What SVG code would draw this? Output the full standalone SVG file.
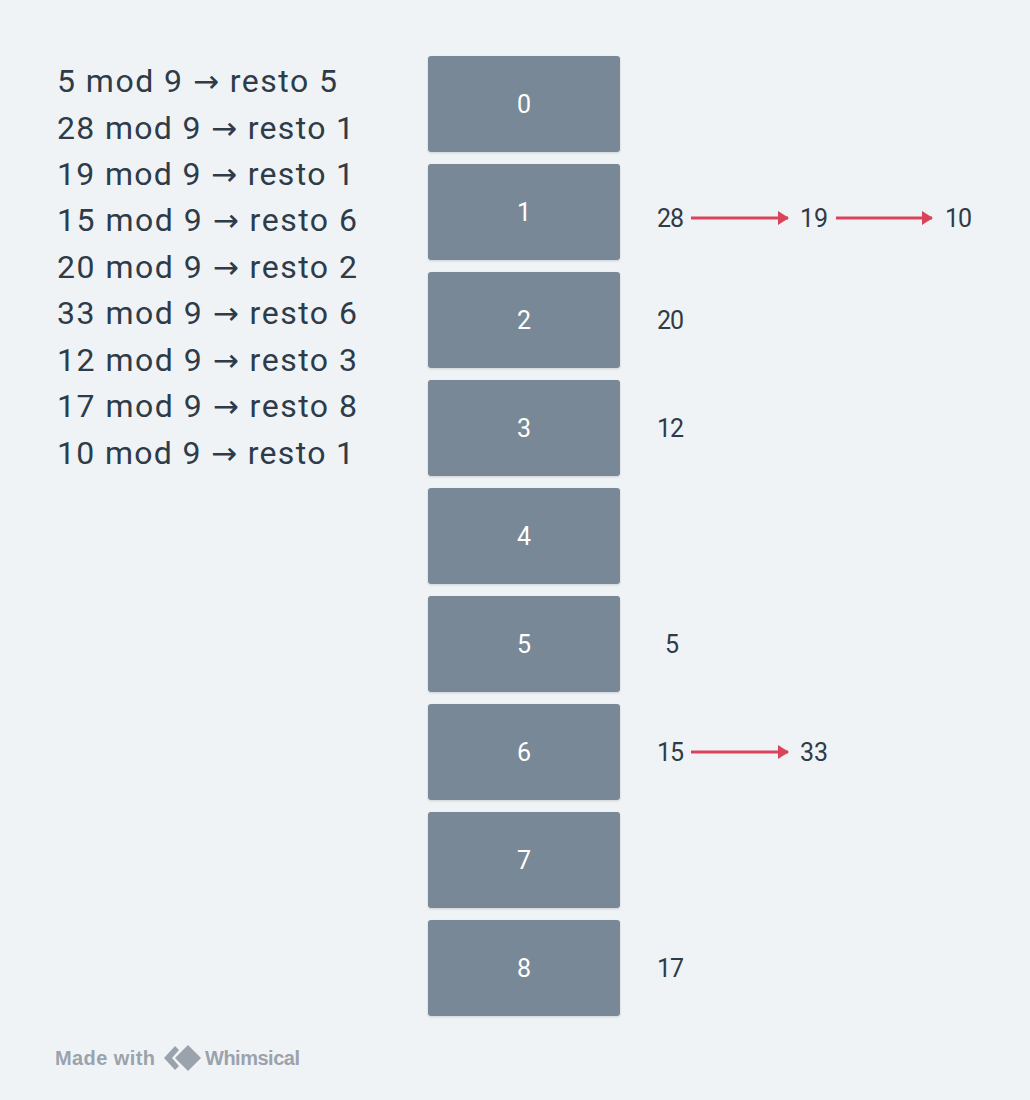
<svg xmlns="http://www.w3.org/2000/svg" width="1030" height="1100" viewBox="0 0 1030 1100">
<defs>
<style>
.bg{fill:#f0f3f6}
.box{fill:#788896}
.lbl{font-family:Roboto,"Liberation Sans",sans-serif;font-size:25px;fill:#ffffff;text-anchor:middle;dominant-baseline:central}
.eq{font-family:Roboto,"Liberation Sans",sans-serif;font-size:32px;fill:#2e3b48}
.ar{font-family:"DejaVu Sans",sans-serif;font-size:31px}
.val{font-family:Roboto,"Liberation Sans",sans-serif;font-size:25px;fill:#2e3b48;dominant-baseline:central}
.arr{stroke:#d9445a;stroke-width:3;fill:none}
.wm{font-family:"Liberation Sans",Arial,sans-serif;font-size:20px;font-weight:bold;fill:#9aa3ac}
</style>
<filter id="sh" x="-10%" y="-10%" width="120%" height="130%">
<feDropShadow dx="0" dy="1" stdDeviation="1" flood-color="#000" flood-opacity="0.15"/>
</filter>
<marker id="ah" markerWidth="12" markerHeight="14" refX="10" refY="7" orient="auto" markerUnits="userSpaceOnUse">
<path d="M0,0 L11,7 L0,14 Z" fill="#d9445a"/>
</marker>
</defs>
<rect class="bg" x="0" y="0" width="1030" height="1100"/>
<g id="equations">
<text class="eq" x="57" y="92" textLength="280" lengthAdjust="spacing">5 mod 9 <tspan class="ar">→</tspan> resto 5</text>
<text class="eq" x="57" y="139" textLength="297" lengthAdjust="spacing">28 mod 9 <tspan class="ar">→</tspan> resto 1</text>
<text class="eq" x="57" y="185" textLength="297" lengthAdjust="spacing">19 mod 9 <tspan class="ar">→</tspan> resto 1</text>
<text class="eq" x="57" y="231" textLength="300" lengthAdjust="spacing">15 mod 9 <tspan class="ar">→</tspan> resto 6</text>
<text class="eq" x="57" y="278" textLength="300" lengthAdjust="spacing">20 mod 9 <tspan class="ar">→</tspan> resto 2</text>
<text class="eq" x="57" y="324" textLength="300" lengthAdjust="spacing">33 mod 9 <tspan class="ar">→</tspan> resto 6</text>
<text class="eq" x="57" y="371" textLength="300" lengthAdjust="spacing">12 mod 9 <tspan class="ar">→</tspan> resto 3</text>
<text class="eq" x="57" y="417" textLength="300" lengthAdjust="spacing">17 mod 9 <tspan class="ar">→</tspan> resto 8</text>
<text class="eq" x="57" y="464" textLength="297" lengthAdjust="spacing">10 mod 9 <tspan class="ar">→</tspan> resto 1</text>
</g>
<g id="bucket0"><rect class="box" filter="url(#sh)" x="428" y="56" width="192" height="96" rx="3"/><text class="lbl" x="524" y="104">0</text></g>
<g id="bucket1"><rect class="box" filter="url(#sh)" x="428" y="164" width="192" height="96" rx="3"/><text class="lbl" x="524" y="212">1</text></g>
<g id="bucket2"><rect class="box" filter="url(#sh)" x="428" y="272" width="192" height="96" rx="3"/><text class="lbl" x="524" y="320">2</text></g>
<g id="bucket3"><rect class="box" filter="url(#sh)" x="428" y="380" width="192" height="96" rx="3"/><text class="lbl" x="524" y="428">3</text></g>
<g id="bucket4"><rect class="box" filter="url(#sh)" x="428" y="488" width="192" height="96" rx="3"/><text class="lbl" x="524" y="536">4</text></g>
<g id="bucket5"><rect class="box" filter="url(#sh)" x="428" y="596" width="192" height="96" rx="3"/><text class="lbl" x="524" y="644">5</text></g>
<g id="bucket6"><rect class="box" filter="url(#sh)" x="428" y="704" width="192" height="96" rx="3"/><text class="lbl" x="524" y="752">6</text></g>
<g id="bucket7"><rect class="box" filter="url(#sh)" x="428" y="812" width="192" height="96" rx="3"/><text class="lbl" x="524" y="860">7</text></g>
<g id="bucket8"><rect class="box" filter="url(#sh)" x="428" y="920" width="192" height="96" rx="3"/><text class="lbl" x="524" y="968">8</text></g>
<g id="v28"><text class="val" x="657" y="218" textLength="27">28</text></g>
<g id="v19"><text class="val" x="800" y="218" textLength="28">19</text></g>
<g id="v10"><text class="val" x="945" y="218" textLength="27">10</text></g>
<g id="v20"><text class="val" x="657" y="320" textLength="27">20</text></g>
<g id="v12"><text class="val" x="657" y="428" textLength="27">12</text></g>
<g id="v5"><text class="val" x="665" y="644">5</text></g>
<g id="v15"><text class="val" x="657" y="752" textLength="27">15</text></g>
<g id="v33"><text class="val" x="800" y="752" textLength="28">33</text></g>
<g id="v17"><text class="val" x="657" y="968" textLength="27">17</text></g>
<g id="connectors">
<line class="arr" x1="691" y1="218" x2="788" y2="218" marker-end="url(#ah)"/>
<line class="arr" x1="836" y1="218" x2="932" y2="218" marker-end="url(#ah)"/>
<line class="arr" x1="691" y1="752" x2="788" y2="752" marker-end="url(#ah)"/>
</g>
<g id="watermark">
<text class="wm" x="55" y="1065" textLength="100">Made with</text>
<path d="M175,1046 L164,1058 L175,1070 L179,1066 L172,1058 L179,1050 Z" fill="#9aa3ac"/>
<path d="M188,1045 L201,1058 L188,1071 L175,1058 Z" fill="#9aa3ac"/>
<text class="wm" x="205" y="1065" textLength="95">Whimsical</text>
</g>
</svg>
